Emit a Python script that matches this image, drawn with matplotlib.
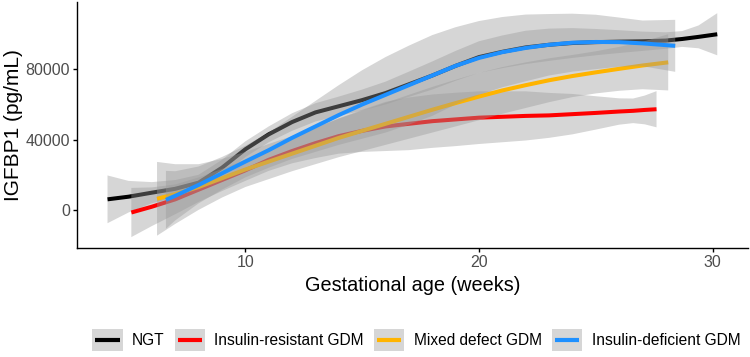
import matplotlib
matplotlib.use("Agg")
import matplotlib.pyplot as plt
import numpy as np
from matplotlib.lines import Line2D
from matplotlib.patches import Rectangle
from matplotlib.legend_handler import HandlerBase

plt.rcParams["font.family"] = ["Liberation Sans", "DejaVu Sans"]

# =========================
# SMOOTHED CURVES
# =========================

NGT_WEEKS = [4.1, 5, 6, 7, 8, 9, 10, 11, 12, 13, 14, 15, 16, 17, 18, 19, 20,
             21, 22, 23, 24, 25, 26, 27, 28, 28.7, 29.4, 30.2]
NGT_IGFBP1 = [6000, 7500, 9800, 12000, 15500, 24000, 34500, 43000, 50000, 55500,
              59000, 62500, 66500, 71500, 76500, 82000, 87000, 90000, 92500, 94000,
              95000, 95500, 95800, 96000, 96400, 97300, 98500, 100000]
NGT_HALF_CI = [13600, 9000, 6000, 5000, 4500, 4500, 4500, 4500, 5000, 5200,
               5500, 6000, 6500, 7200, 8000, 8500, 9000, 9300, 9500, 9200,
               8500, 7500, 6500, 5500, 4700, 4500, 6500, 12000]

IR_WEEKS = [5.12, 6, 7, 8, 9, 10, 11, 12, 13, 14, 15, 16, 17, 18, 19, 20, 21,
            22, 23, 24, 25, 26, 26.6, 27.1, 27.6]
IR_IGFBP1 = [-1500, 1800, 6000, 11500, 17000, 22500, 28500, 33500, 38000, 42000,
             45000, 47500, 49000, 50500, 51500, 52500, 53000, 53500, 53800, 54500,
             55200, 56000, 56400, 56900, 57300]
IR_HALF_CI = [14000, 11000, 8500, 7000, 6300, 6000, 6300, 7000, 8500, 10000,
              12000, 14000, 15000, 15200, 15200, 15000, 14500, 14000, 12800, 11500,
              9500, 7500, 7000, 8200, 10300]

MIX_WEEKS = [6.22, 7, 8, 9, 10, 11, 12, 13, 14, 15, 16, 17, 18, 19, 20, 21, 22,
             23, 24, 25, 26, 27, 28.1]
MIX_IGFBP1 = [6300, 9000, 13000, 18000, 23000, 27500, 32000, 36500, 41000, 45000,
              49000, 53000, 57000, 60800, 64500, 68000, 71000, 73800, 76200, 78300,
              80300, 82200, 84000]
MIX_HALF_CI = [21000, 17000, 13000, 11000, 10000, 10000, 10000, 10500, 11000, 11500,
               12000, 12500, 13000, 13300, 13500, 13300, 13000, 12500, 12000, 12000,
               12500, 13500, 16000]

ID_WEEKS = [6.6, 7, 8, 9, 10, 11, 12, 13, 14, 15, 16, 17, 18, 19, 20, 21, 22,
            23, 24, 25, 26, 27, 28.4]
ID_IGFBP1 = [5700, 8000, 14200, 20800, 27500, 34000, 41000, 47500, 54000, 60000,
             65500, 71000, 76500, 82000, 86500, 89800, 92200, 94000, 95200, 95600,
             95500, 94800, 93400]
ID_HALF_CI = [16500, 14000, 10500, 9300, 9000, 10000, 12000, 14500, 17000, 19500,
              21500, 22500, 23000, 22000, 21000, 20000, 19000, 17500, 16500, 15500,
              14000, 13000, 14800]

GROUPS = ["NGT", "Insulin-resistant GDM", "Mixed defect GDM", "Insulin-deficient GDM"]
COLORS = ["#000000", "#FF0000", "#FFB400", "#1E90FF"]
BAND = "#999999"

X_TICKS = [10, 20, 30]
Y_TICKS = [0, 40000, 80000]

SERIES = [
    (NGT_WEEKS, NGT_IGFBP1, NGT_HALF_CI),
    (IR_WEEKS, IR_IGFBP1, IR_HALF_CI),
    (MIX_WEEKS, MIX_IGFBP1, MIX_HALF_CI),
    (ID_WEEKS, ID_IGFBP1, ID_HALF_CI),
]


class KeyHandler(HandlerBase):
    # grey ribbon box with the group colour line on top, like a ggplot key
    def create_artists(self, legend, orig_handle, xdescent, ydescent,
                       width, height, fontsize, trans):
        box = Rectangle((-xdescent, -ydescent), width, height,
                        facecolor=BAND, alpha=0.4, edgecolor="none",
                        transform=trans)
        pad = width * 0.1
        yc = -ydescent + height / 2
        line = Line2D([-xdescent + pad, -xdescent + width - pad], [yc, yc],
                      color=orig_handle.get_color(), linewidth=3.0,
                      solid_capstyle="butt", transform=trans)
        return [box, line]


# =========================
# PLOT
# =========================

fig = plt.figure(figsize=(7.5, 3.57), dpi=100)
ax = fig.add_axes([0.1027, 0.3045, 0.8943, 0.69])

handles = []
z = 1
for (wk, val, half), name, col in zip(SERIES, GROUPS, COLORS):
    wk = np.array(wk)
    val = np.array(val, dtype=float)
    half = np.array(half, dtype=float)
    ax.fill_between(wk, val - half, val + half, facecolor=BAND, alpha=0.4,
                    edgecolor="none", zorder=z)
    line, = ax.plot(wk, val, color=col, linewidth=2.9, solid_capstyle="butt",
                    solid_joinstyle="round", zorder=z + 1, label=name)
    handles.append(line)
    z += 2

# ggplot-style 5% expansion on the data range
all_x = np.concatenate([s[0] for s in SERIES])
lows = np.concatenate([np.array(s[1]) - np.array(s[2]) for s in SERIES])
highs = np.concatenate([np.array(s[1]) + np.array(s[2]) for s in SERIES])
dx = (all_x.max() - all_x.min()) * 0.05
dy = (highs.max() - lows.min()) * 0.05
ax.set_xlim(all_x.min() - dx, all_x.max() + dx)
ax.set_ylim(lows.min() - dy, highs.max() + dy)

# =========================
# AXES
# =========================

for side in ["top", "right"]:
    ax.spines[side].set_visible(False)
for side in ["left", "bottom"]:
    ax.spines[side].set_linewidth(1.0)
    ax.spines[side].set_color("black")

ax.set_xticks(X_TICKS)
ax.set_yticks(Y_TICKS)
ax.set_yticklabels([str(v) for v in Y_TICKS])
ax.tick_params(axis="both", length=3, width=1.0, color="black",
               labelsize=11.5, labelcolor="#4D4D4D", pad=2)

ax.set_xlabel("Gestational age (weeks)", fontsize=14.3, labelpad=4)
ax.set_ylabel("IGFBP1 (pg/mL)", fontsize=15, labelpad=2)

# =========================
# LEGEND
# =========================

fig.legend(handles=handles, labels=GROUPS, handler_map={Line2D: KeyHandler()},
           loc="center", bbox_to_anchor=(0.555, 0.049), ncol=4, frameon=False,
           fontsize=11.2, handlelength=1.95, handleheight=1.8,
           handletextpad=0.6, columnspacing=0.65, borderpad=0, borderaxespad=0)

fig.savefig("out.png", dpi=100)
